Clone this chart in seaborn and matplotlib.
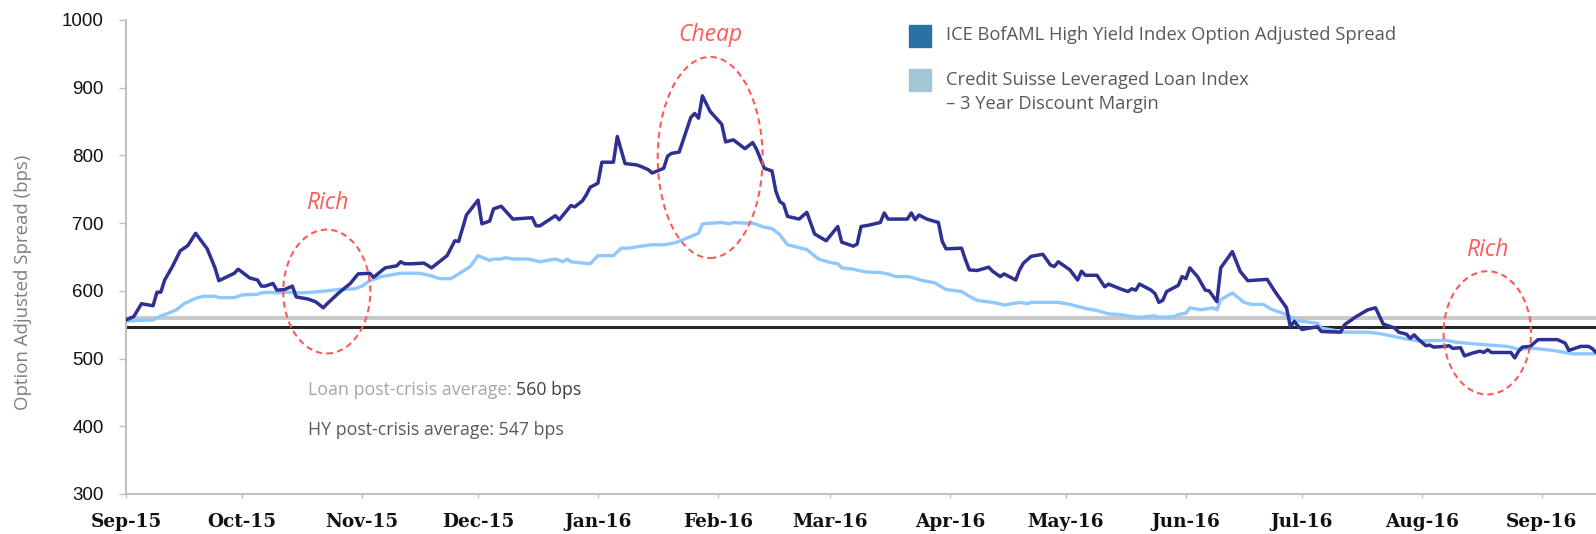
import pandas as pd
import matplotlib.pyplot as plt
import matplotlib.dates as mdates
from matplotlib.patches import Ellipse, Rectangle
import seaborn as sns

# ------------------------------
# Data (days counted from 1 Sep 2015)
# ------------------------------
start = pd.Timestamp("2015-09-01")

hy_day = [0, 2, 4, 7, 8, 9, 10, 12, 14, 16,
          18, 21, 23, 24, 28, 29, 32, 34, 35, 36,
          38, 39, 41, 43, 44, 47, 49, 51, 52, 55,
          58, 60, 63, 64, 67, 70, 71, 72, 74, 77,
          79, 83, 85, 86, 88, 91, 92, 94, 95, 97,
          100, 105, 106, 107, 111, 112, 113, 115, 116, 118,
          119, 120, 122, 123, 126, 127, 129, 132, 133, 135,
          136, 139, 140, 141, 143, 146, 147, 148, 149, 151,
          154, 155, 157, 160, 162, 163, 165, 167, 168, 169,
          170, 171, 174, 176, 178, 181, 184, 185, 188, 189,
          190, 192, 195, 196, 197, 202, 203, 204, 205, 207,
          210, 211, 212, 216, 217, 218, 220, 223, 224, 226,
          227, 230, 231, 232, 234, 237, 239, 240, 241, 244,
          246, 247, 248, 251, 253, 254, 257, 259, 260, 261,
          262, 265, 266, 267, 268, 269, 272, 273, 274, 275,
          277, 279, 280, 282, 283, 286, 288, 290, 295, 297,
          300, 301, 302, 303, 304, 308, 309, 314, 315, 318,
          321, 323, 325, 328, 329, 331, 332, 333, 334, 336,
          337, 338, 341, 342, 343, 345, 346, 348, 350, 351,
          352, 353, 358, 359, 360, 361, 363, 365, 370, 372,
          373, 376, 378, 379, 380]
hy_oas = [557, 562, 581, 578, 598, 598, 616, 636, 659, 667,
          685, 662, 634, 615, 626, 632, 619, 616, 607, 607,
          611, 601, 602, 607, 591, 588, 584, 575, 581, 597,
          611, 625, 626, 620, 634, 637, 643, 640, 640, 641,
          634, 652, 674, 673, 712, 734, 699, 703, 721, 725,
          706, 708, 696, 696, 711, 705, 712, 726, 724, 733,
          742, 753, 759, 790, 790, 828, 788, 786, 784, 779,
          774, 781, 799, 803, 805, 856, 862, 855, 888, 865,
          846, 820, 823, 810, 819, 809, 781, 777, 747, 732,
          728, 710, 706, 716, 684, 674, 695, 672, 666, 669,
          695, 697, 701, 715, 706, 706, 715, 705, 712, 706,
          701, 673, 662, 663, 646, 631, 630, 635, 629, 621,
          625, 616, 631, 641, 651, 654, 638, 636, 643, 631,
          616, 629, 623, 623, 606, 610, 603, 599, 603, 601,
          610, 601, 596, 583, 586, 599, 608, 621, 618, 634,
          621, 601, 600, 584, 634, 658, 629, 615, 617, 599,
          575, 547, 555, 548, 543, 547, 540, 539, 550, 562,
          572, 575, 551, 545, 539, 536, 530, 535, 529, 519,
          520, 517, 518, 519, 515, 516, 504, 508, 511, 509,
          513, 509, 509, 501, 511, 517, 518, 528, 528, 523,
          512, 518, 518, 515, 509]

loan_day = [0, 2, 7, 9, 11, 13, 15, 18, 20, 23,
            24, 28, 30, 34, 35, 37, 39, 42, 45, 48,
            52, 55, 59, 61, 63, 66, 68, 71, 76, 79,
            81, 84, 86, 89, 91, 94, 95, 97, 98, 100,
            104, 107, 111, 113, 114, 115, 120, 122, 126, 128,
            130, 133, 136, 139, 142, 145, 148, 149, 154, 156,
            157, 160, 162, 165, 167, 169, 171, 176, 179, 182,
            184, 185, 188, 191, 195, 197, 199, 202, 203, 206,
            209, 212, 216, 218, 220, 225, 227, 230, 231, 233,
            234, 241, 244, 248, 251, 254, 257, 260, 262, 266,
            267, 271, 272, 274, 275, 278, 281, 282, 283, 286,
            289, 291, 294, 296, 299, 301, 303, 308, 309, 314,
            315, 321, 324, 330, 334, 341, 344, 350, 357, 360,
            364, 369, 374, 380]
loan_dm = [555, 556, 557, 563, 567, 572, 581, 589, 592, 592,
           590, 590, 594, 595, 597, 598, 597, 598, 597, 598,
           600, 602, 603, 607, 615, 621, 623, 626, 626, 622,
           618, 618, 625, 636, 652, 645, 647, 647, 649, 647,
           647, 643, 647, 643, 647, 643, 640, 652, 652, 663,
           663, 666, 668, 668, 671, 678, 685, 699, 701, 699,
           701, 700, 700, 694, 692, 683, 668, 661, 647, 642,
           640, 634, 632, 628, 627, 625, 621, 621, 620, 615,
           612, 602, 599, 592, 586, 582, 579, 582, 583, 581,
           583, 583, 580, 574, 571, 566, 565, 562, 561, 563,
           561, 562, 565, 567, 575, 572, 575, 572, 587, 597,
           583, 580, 580, 573, 567, 562, 556, 552, 545, 540,
           539, 539, 537, 530, 526, 527, 524, 521, 518, 514,
           515, 512, 507, 507]

loan_avg = 560
hy_avg = 547

hy_name = "ICE BofAML High Yield Index Option Adjusted Spread"
loan_name = "Credit Suisse Leveraged Loan Index\n\u2013 3 Year Discount Margin"

hy_df = pd.DataFrame({"date": start + pd.to_timedelta(hy_day, unit="D"), "bps": hy_oas})
loan_df = pd.DataFrame({"date": start + pd.to_timedelta(loan_day, unit="D"), "bps": loan_dm})

def day(n):
    return mdates.date2num(start + pd.Timedelta(days=n))

# ------------------------------
# Plot
# ------------------------------
sns.set_style("white")
plt.rcParams["font.family"] = ["Open Sans", "DejaVu Sans"]

W, H = 1596, 534
fig = plt.figure(figsize=(W / 100, H / 100), dpi=100)
ax = fig.add_axes([126 / W, 40 / H, 1470 / W, 474 / H])

ax.axhline(loan_avg, color="#C8C8C8", lw=2.8, zorder=1)
ax.axhline(hy_avg, color="#262626", lw=2.2, zorder=1)

sns.lineplot(data=loan_df, x="date", y="bps", color="#8EC8FF", lw=2.4, ax=ax, zorder=3)
sns.lineplot(data=hy_df, x="date", y="bps", color="#2E3192", lw=2.5, ax=ax, zorder=4)

ax.set_xlim(day(0), day(380))
ax.set_ylim(300, 1000)
ax.set_yticks(range(300, 1001, 100))
ax.xaxis.set_major_locator(mdates.MonthLocator())
ax.xaxis.set_major_formatter(mdates.DateFormatter("%b-%y"))
ax.set_xlabel("")
ax.set_ylabel("")

for s in ["top", "right"]:
    ax.spines[s].set_visible(False)
for s in ["left", "bottom"]:
    ax.spines[s].set_color("#BFBFBF")
    ax.spines[s].set_linewidth(1.4)

ax.tick_params(axis="y", length=5, width=1, color="#BFBFBF", pad=11, left=True)
ax.tick_params(axis="x", length=3, width=1, color="#BFBFBF", pad=11, bottom=True)
for lab in ax.get_yticklabels():
    lab.set_fontfamily("Liberation Sans")
    lab.set_fontsize(13.5)
    lab.set_color("#111111")
for lab in ax.get_xticklabels():
    lab.set_fontfamily("DejaVu Serif")
    lab.set_fontweight("bold")
    lab.set_fontsize(13.3)
    lab.set_color("#111111")

fig.text(23 / W, 1 - 282 / H, "Option Adjusted Spread (bps)", rotation=90,
         ha="center", va="center", fontsize=13.4, color="#7F7F7F")

# average labels
t1 = ax.text(day(47), 453, "Loan post-crisis average: ", fontsize=12.8,
             color="#A6A6A6", va="center", ha="left")
ax.annotate("560 bps", xy=(1, 0), xycoords=t1, va="bottom", ha="left",
            fontsize=12.8, color="#404040")
ax.text(day(47), 395, "HY post-crisis average: 547 bps", fontsize=12.8,
        color="#595959", va="center", ha="left")

# rich / cheap call-outs
red = "#FF5A5A"
callouts = [("Cheap", 151.0, 797, 27.1, 297, 978),
            ("Rich", 51.9, 599, 22.5, 183, 730),
            ("Rich", 351.9, 538, 22.6, 182, 661)]
for label, cx, cy, w, h, ty in callouts:
    ax.add_patch(Ellipse((day(cx), cy), w, h, fill=False, ec=red, lw=1.5,
                         ls=(0, (3, 2)), zorder=5))
    ax.text(day(cx), ty, label, color=red, fontsize=16.5, style="italic",
            ha="center", va="center")

# legend
fig.add_artist(Rectangle((909 / W, 1 - 47 / H), 22 / W, 22 / H,
                         transform=fig.transFigure, color="#2C71A3"))
fig.add_artist(Rectangle((909 / W, 1 - 91 / H), 22 / W, 22 / H,
                         transform=fig.transFigure, color="#A3C5D5"))
fig.text(946 / W, 1 - 35 / H, hy_name, fontsize=13.2, color="#595959", va="center")
fig.text(946 / W, 1 - 92 / H, loan_name, fontsize=13.2, color="#595959", va="center",
         linespacing=1.45)

fig.savefig("out.png", dpi=100)
